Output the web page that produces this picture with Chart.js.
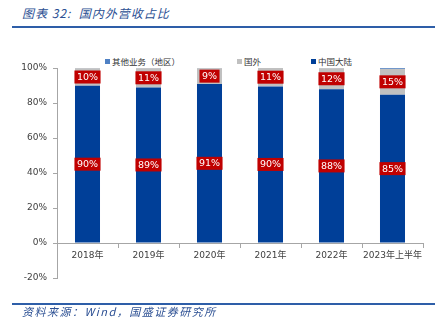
<!DOCTYPE html>
<html>
<head>
<meta charset="utf-8">
<script src="https://cdn.jsdelivr.net/npm/chart.js@4/dist/chart.umd.min.js"></script>
<style>
  html, body { margin: 0; padding: 0; background: #fff; }
  #wrap { position: relative; width: 438px; height: 321px; overflow: hidden; }
  #myChart { position: absolute; left: 0; top: 0; }
  .title { position: absolute; left: 22px; top: 4px; font: italic 12px "Noto Sans CJK SC", sans-serif; letter-spacing: 1px; color: #2b4f93; }
  .rule { position: absolute; left: 12px; width: 423px; height: 2px; background: #2e5ea8; }
  .source { position: absolute; left: 22px; top: 303px; font: italic 11px "Noto Sans CJK SC", sans-serif; letter-spacing: 1.5px; color: #2b4f93; }
  #legend { position: absolute; top: 55px; left: 0; width: 438px; height: 14px; font: 8.5px "Noto Sans CJK SC", sans-serif; color: #333; }
  #legend span { position: absolute; white-space: nowrap; }
  #legend i { display: inline-block; width: 5px; height: 5px; margin-right: 2px; vertical-align: 1px; }
</style>
</head>
<body>
<div id="wrap">
  <div class="title">图表 32:&nbsp; 国内外营收占比</div>
  <div class="rule" style="top:26px"></div>
  <div id="legend"></div>
  <canvas id="myChart" width="438" height="321"></canvas>
  <div class="rule" style="top:303px"></div>
  <div class="source">资料来源：Wind，国盛证券研究所</div>
</div>
<script>
const ctx = document.getElementById("myChart");

// categories and series (percent of revenue)
const labels = ["2018年", "2019年", "2020年", "2021年", "2022年", "2023年上半年"];
const mainland = [89.8, 88.9, 90.8, 89.5, 87.8, 84.7];
const overseas = [10.1, 11.0, 9.1, 10.5, 12.1, 14.8];
const others = [0.1, 0.1, 0.1, 0.0, 0.1, 0.5];
const yTicks = [-20, 0, 20, 40, 60, 80, 100];

const seriesNames = ["中国大陆", "国外", "其他业务（地区）"];
const seriesColors = ["#003f98", "#c0c0c0", "#4f81c4"];

// html legend, same order as the original
const legendPos = [
  { idx: 2, left: 105 },
  { idx: 1, left: 237 },
  { idx: 0, left: 311 },
];
const legendEl = document.getElementById("legend");
legendPos.forEach((p) => {
  const s = document.createElement("span");
  s.style.left = p.left + "px";
  s.innerHTML = `<i style="background:${seriesColors[p.idx]}"></i>${seriesNames[p.idx]}`;
  legendEl.appendChild(s);
});

// red value boxes on the mainland and overseas segments
const valueBoxes = {
  id: "valueBoxes",
  afterDatasetsDraw(chart) {
    const c = chart.ctx;
    c.save();
    c.font = "9.5px 'DejaVu Sans', sans-serif";
    c.textAlign = "center";
    c.textBaseline = "middle";
    [0, 1].forEach((di) => {
      const meta = chart.getDatasetMeta(di);
      meta.data.forEach((bar, i) => {
        const v = chart.data.datasets[di].data[i];
        const txt = Math.round(v) + "%";
        const cy = (bar.y + bar.base) / 2;
        const w = c.measureText(txt).width + 5;
        const h = 13;
        c.fillStyle = "#c00000";
        c.fillRect(bar.x - w / 2, cy - h / 2, w, h);
        c.fillStyle = "#ffffff";
        c.fillText(txt, bar.x, cy + 0.5);
      });
    });
    c.restore();
  },
};

let data = {
  labels: labels,
  datasets: [
    { label: seriesNames[0], data: mainland, backgroundColor: seriesColors[0] },
    { label: seriesNames[1], data: overseas, backgroundColor: seriesColors[1] },
    { label: seriesNames[2], data: others, backgroundColor: seriesColors[2] },
  ],
};

const graphic = new Chart(ctx, {
  type: "bar",
  data: data,
  plugins: [valueBoxes],
  options: {
    responsive: false,
    animation: false,
    layout: { padding: { top: 68, bottom: 43, left: 0, right: 15 } },
    datasets: { bar: { categoryPercentage: 0.82, barPercentage: 0.5, borderWidth: 0 } },
    plugins: {
      legend: { display: false },
      tooltip: { enabled: false },
    },
    scales: {
      x: {
        stacked: true,
        position: { y: 0 },
        grid: {
          offset: true,
          drawOnChartArea: false,
          drawTicks: true,
          tickLength: 4,
          color: "#a6a6a6",
        },
        border: { color: "#a6a6a6" },
        ticks: {
          padding: 3,
          color: "#404040",
          font: { size: 9, family: "'DejaVu Sans', 'Noto Sans CJK SC', sans-serif" },
          maxRotation: 0,
          autoSkip: false,
        },
      },
      y: {
        stacked: true,
        min: -20,
        max: 100,
        afterFit: (s) => { s.width = 57; },
        afterBuildTicks: (s) => { s.ticks = yTicks.map((v) => ({ value: v })); },
        grid: { drawOnChartArea: false, tickLength: 4, color: "#a6a6a6" },
        border: { color: "#a6a6a6" },
        ticks: {
          padding: 6,
          color: "#404040",
          font: { size: 9, family: "'DejaVu Sans', sans-serif" },
          callback: (v) => v + "%",
        },
      },
    },
  },
});
</script>
</body>
</html>
